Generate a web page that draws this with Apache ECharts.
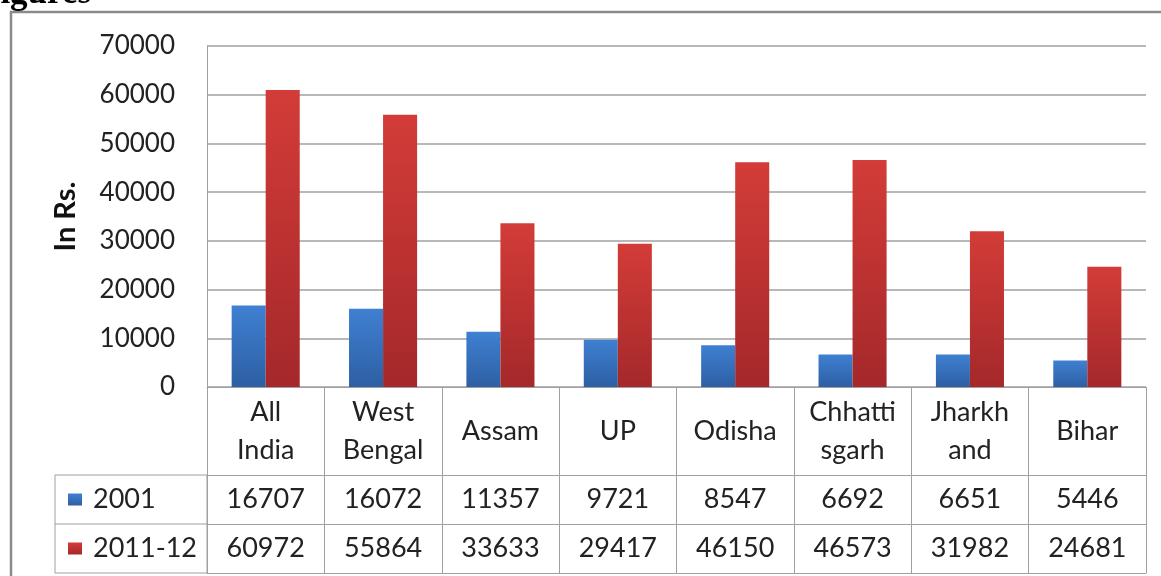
<!DOCTYPE html>
<html>
<head>
<meta charset="utf-8">
<script src="https://cdn.jsdelivr.net/npm/echarts@6/dist/echarts.min.js"></script>
<style>
html,body{margin:0;padding:0;background:#fff;}
#c{width:1161px;height:576px;}
</style>
</head>
<body>
<div id="c"></div>
<script>
var categories = ['All\nIndia', 'West\nBengal', 'Assam', 'UP', 'Odisha', 'Chhatti\nsgarh', 'Jharkh\nand', 'Bihar'];
var seriesNames = ['2001', '2011-12'];
var values2001 = [16707, 16072, 11357, 9721, 8547, 6692, 6651, 5446];
var values2011 = [60972, 55864, 33633, 29417, 46150, 46573, 31982, 24681];
var yTicks = { min: 0, max: 70000, interval: 10000 };

var FONT = 'Lato';
var lineColor = '#a0a0a0';
var G = { left: 207, right: 15, top: 46, bottom: 189 };
var plotBottom = 576 - G.bottom;
var rowCat = 88, rowH = 49;
var tableLeft = 55;

var blueGrad = new echarts.graphic.LinearGradient(0, 0, 0, 1, [
  { offset: 0, color: '#3f80d2' }, { offset: 1, color: '#2d5fa3' }]);
var redGrad = new echarts.graphic.LinearGradient(0, 0, 0, 1, [
  { offset: 0, color: '#d33c38' }, { offset: 1, color: '#a5282a' }]);

function rowAxis(offset, vals, showLabel) {
  return {
    type: 'category', data: categories, position: 'bottom', offset: offset,
    axisLine: { show: true, lineStyle: { color: lineColor, width: 1 } },
    axisTick: { show: showLabel, length: rowH, lineStyle: { color: lineColor } },
    axisLabel: {
      show: showLabel, interval: 0, margin: rowH / 2, verticalAlign: 'middle',
      fontFamily: FONT, fontSize: 27, color: '#222',
      formatter: function (v, i) { return vals ? String(vals[i]) : ''; }
    },
    splitLine: { show: false }
  };
}

var chart = echarts.init(document.getElementById('c'), null, { renderer: 'canvas' });
var sqW = 14, sqH = 12;
var option = {
  animation: false,
  backgroundColor: '#fff',
  grid: { left: G.left, right: G.right, top: G.top, bottom: G.bottom },
  xAxis: [
    {
      type: 'category', data: categories, position: 'bottom',
      axisLine: { show: true, lineStyle: { color: lineColor, width: 1 } },
      axisTick: { show: true, length: rowCat, lineStyle: { color: lineColor } },
      axisLabel: {
        interval: 0, margin: rowCat / 2, verticalAlign: 'middle',
        fontFamily: FONT, fontSize: 27, lineHeight: 38, color: '#222', align: 'center'
      }
    },
    rowAxis(rowCat, values2001, true),
    rowAxis(rowCat + rowH, values2011, true),
    rowAxis(rowCat + 2 * rowH, null, false)
  ],
  yAxis: {
    type: 'value', min: yTicks.min, max: yTicks.max, interval: yTicks.interval,
    name: 'In Rs.', nameLocation: 'middle', nameGap: 127, nameRotate: 90,
    nameTextStyle: { fontFamily: FONT, fontSize: 29, fontWeight: 'bold', color: '#111' },
    axisLine: { show: true, lineStyle: { color: lineColor } },
    axisTick: { show: false },
    axisLabel: { margin: 32, fontFamily: FONT, fontSize: 26, color: '#222',
      formatter: function (v) { return String(v); } },
    splitLine: { show: true, lineStyle: { color: lineColor, width: 1.5 } }
  },
  series: [
    { name: seriesNames[0], type: 'bar', data: values2001, barGap: '0%', barCategoryGap: '42%',
      itemStyle: { color: blueGrad } },
    { name: seriesNames[1], type: 'bar', data: values2011, barGap: '0%', barCategoryGap: '42%',
      itemStyle: { color: redGrad } }
  ],
  graphic: [
    { type: 'text', left: -21, top: -24, silent: true,
      style: { text: 'Figures', font: 'bold 35px "Liberation Serif", "DejaVu Serif", serif', fill: '#000' } },
    { type: 'rect', shape: { x: 11, y: 12, width: 1300, height: 700 },
      style: { fill: 'none', stroke: '#8a8a8a', lineWidth: 2.5 }, silent: true, z: -1 },
    { type: 'line', shape: { x1: tableLeft, y1: plotBottom + rowCat, x2: G.left, y2: plotBottom + rowCat }, style: { stroke: lineColor, lineWidth: 1 } },
    { type: 'line', shape: { x1: tableLeft, y1: plotBottom + rowCat + rowH, x2: G.left, y2: plotBottom + rowCat + rowH }, style: { stroke: lineColor, lineWidth: 1 } },
    { type: 'line', shape: { x1: tableLeft, y1: plotBottom + rowCat + 2 * rowH, x2: G.left, y2: plotBottom + rowCat + 2 * rowH }, style: { stroke: lineColor, lineWidth: 1 } },
    { type: 'line', shape: { x1: tableLeft, y1: plotBottom + rowCat, x2: tableLeft, y2: plotBottom + rowCat + 2 * rowH }, style: { stroke: lineColor, lineWidth: 1 } },
    { type: 'line', shape: { x1: G.left, y1: plotBottom + rowCat, x2: G.left, y2: plotBottom + rowCat + 2 * rowH }, style: { stroke: lineColor, lineWidth: 1 } },
    { type: 'rect', shape: { x: 68, y: plotBottom + rowCat + rowH / 2 - sqH / 2, width: sqW, height: sqH }, style: { fill: blueGrad } },
    { type: 'rect', shape: { x: 68, y: plotBottom + rowCat + rowH * 1.5 - sqH / 2, width: sqW, height: sqH }, style: { fill: redGrad } },
    { type: 'text', x: 93, y: plotBottom + rowCat + rowH / 2,
      style: { text: seriesNames[0], font: '27px ' + FONT, fill: '#222', verticalAlign: 'middle' } },
    { type: 'text', x: 93, y: plotBottom + rowCat + rowH * 1.5,
      style: { text: seriesNames[1], font: '27px ' + FONT, fill: '#222', verticalAlign: 'middle' } }
  ]
};
chart.setOption(option);
</script>
</body>
</html>
